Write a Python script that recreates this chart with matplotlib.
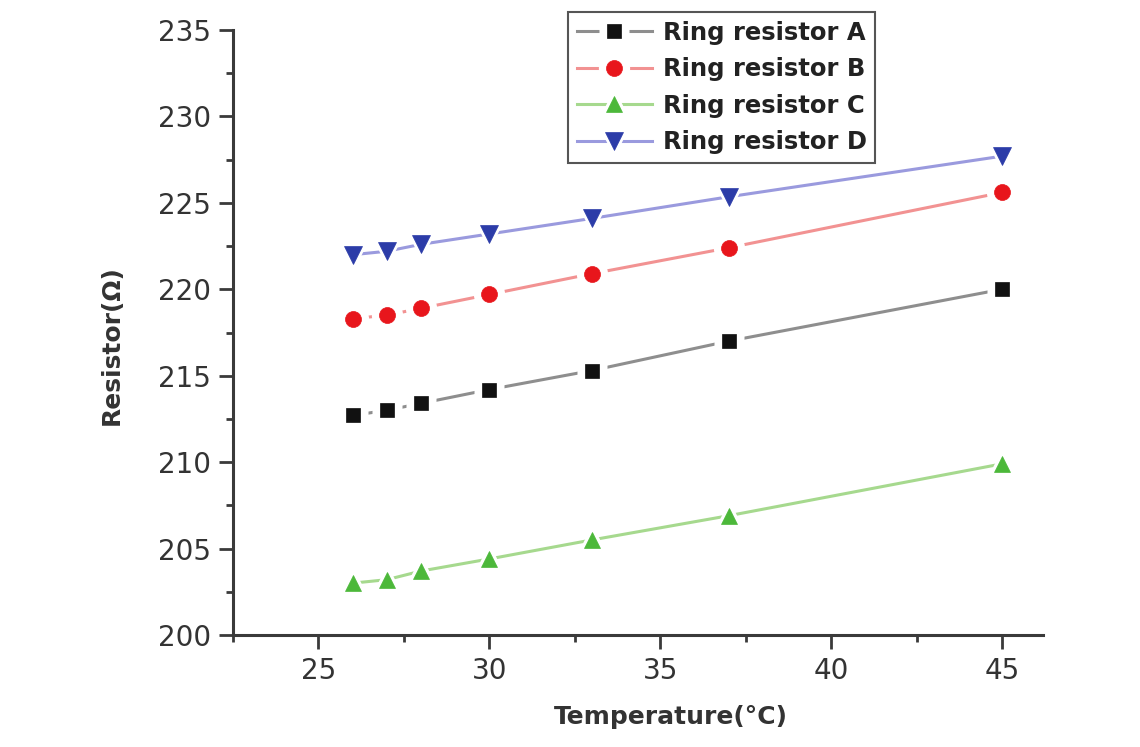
import matplotlib
matplotlib.use("Agg")
import matplotlib.pyplot as plt
from matplotlib.ticker import MultipleLocator
from matplotlib.legend_handler import HandlerTuple

temperature = [26, 27, 28, 30, 33, 37, 45]
ring_a = [212.7, 213.0, 213.4, 214.2, 215.3, 217.0, 220.0]
ring_b = [218.3, 218.5, 218.9, 219.7, 220.9, 222.4, 225.6]
ring_c = [203.0, 203.2, 203.7, 204.4, 205.5, 206.9, 209.9]
ring_d = [222.0, 222.2, 222.6, 223.2, 224.1, 225.35, 227.7]
labels = ["Ring resistor A", "Ring resistor B", "Ring resistor C", "Ring resistor D"]

plt.rcParams['font.family'] = ['DejaVu Sans']

fig = plt.figure(figsize=(11.4, 7.47), dpi=100)
ax = fig.add_axes([233/1140, 1-635/747, (1043-233)/1140, (635-30)/747])

styles = [
    (ring_a, 's', 10, '#8e8e8e', '#111111'),
    (ring_b, 'o', 11.5, '#f29292', '#e8161c'),
    (ring_c, '^', 11.5, '#a6d98e', '#4cb83a'),
    (ring_d, 'v', 12.5, '#9a9ade', '#2c3ca8'),
]

handles = []
for (vals, mk, ms, lc, mc) in styles:
    ln, = ax.plot(temperature, vals, '-', color=lc, lw=2.2, zorder=2)
    halo, = ax.plot(temperature, vals, linestyle='none', marker=mk, ms=ms + 11,
                    mfc='white', mec='none', zorder=3)
    mkr, = ax.plot(temperature, vals, linestyle='none', marker=mk, ms=ms,
                   mfc=mc, mec=mc, mew=0.5, zorder=4)
    handles.append((ln, halo, mkr))

ax.set_xlim(22.5, 46.2)
ax.set_ylim(200, 235)
ax.xaxis.set_major_locator(MultipleLocator(5))
ax.xaxis.set_minor_locator(MultipleLocator(2.5))
ax.yaxis.set_major_locator(MultipleLocator(5))
ax.yaxis.set_minor_locator(MultipleLocator(2.5))

for s in ['top', 'right']:
    ax.spines[s].set_visible(False)
for s in ['left', 'bottom']:
    ax.spines[s].set_color('#3a3a3a')
    ax.spines[s].set_linewidth(2.2)

ax.tick_params(which='major', direction='out', length=10, width=2, color='#3a3a3a',
               labelsize=20, labelcolor='#333333', pad=6)
ax.tick_params(which='minor', direction='out', length=5, width=2, color='#3a3a3a')

ax.set_xlabel('Temperature(°C)', fontsize=18, fontweight='bold', color='#333333')
ax.set_ylabel('Resistor(Ω)', fontsize=18, fontweight='bold', color='#333333')
ax.xaxis.set_label_coords(0.54, -0.115)
ax.yaxis.set_label_coords(-0.135, 0.48)

leg = ax.legend(handles, labels, handler_map={tuple: HandlerTuple(ndivide=1)},
                loc='upper left', bbox_to_anchor=((568-233)/810, (635-12)/605),
                borderaxespad=0, fancybox=False, framealpha=1, edgecolor='#555555',
                prop={'size': 17.5, 'weight': 'bold'}, handlelength=3.1,
                handletextpad=0.45, borderpad=0.35, labelspacing=0.52)
leg.get_frame().set_linewidth(1.5)
for t in leg.get_texts():
    t.set_color('#222222')

fig.savefig('out.png', dpi=100)
